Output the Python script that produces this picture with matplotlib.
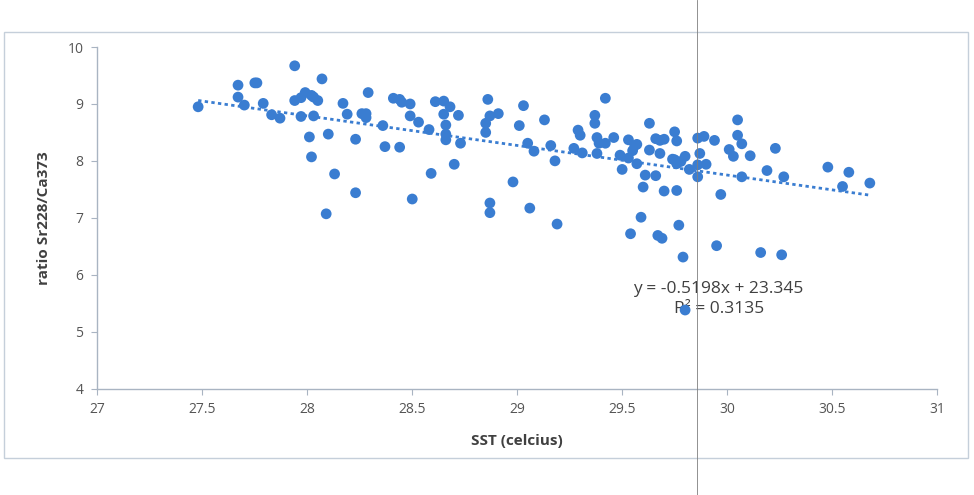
import numpy as np
import matplotlib
matplotlib.use("Agg")
import matplotlib.pyplot as plt
from matplotlib.patches import Rectangle
from matplotlib.lines import Line2D

sst = [27.48, 27.67, 27.75, 27.76, 27.67, 27.70, 27.79, 27.83, 27.87, 27.94,
       28.07, 27.94, 27.97, 27.99, 28.02, 28.03, 28.05, 27.97, 28.03, 28.01,
       28.02, 28.10, 28.13, 28.09, 28.17, 28.19, 28.29, 28.23, 28.23, 28.26,
       28.28, 28.28, 28.36, 28.37, 28.44, 28.41, 28.44, 28.45, 28.49, 28.49,
       28.53, 28.50, 28.58, 28.59, 28.61, 28.65, 28.68, 28.65, 28.72, 28.66,
       28.66, 28.66, 28.73, 28.70, 28.86, 28.87, 28.91, 28.85, 28.85, 28.87,
       28.87, 28.98, 29.03, 29.01, 29.06, 29.13, 29.05, 29.08, 29.16, 29.18,
       29.19, 29.27, 29.29, 29.30, 29.31, 29.37, 29.37, 29.38, 29.39, 29.42,
       29.38, 29.42, 29.46, 29.49, 29.50, 29.53, 29.53, 29.56, 29.57, 29.55,
       29.57, 29.63, 29.63, 29.61, 29.66, 29.60, 29.70, 29.76, 29.66, 29.68,
       29.70, 29.68, 29.75, 29.76, 29.74, 29.75, 29.78, 29.80, 29.76, 29.82,
       29.86, 29.89, 29.94, 29.87, 29.86, 29.90, 29.86, 29.97, 29.59, 29.54,
       29.67, 29.69, 29.77, 29.95, 29.79, 30.16, 30.26, 29.80, 30.05, 30.05,
       30.07, 30.01, 30.03, 30.11, 30.07, 30.19, 30.23, 30.27, 30.48, 30.58,
       30.55, 30.68]
ratio = [8.95, 9.33, 9.37, 9.37, 9.12, 8.98, 9.01, 8.81, 8.75, 9.67,
         9.44, 9.06, 9.11, 9.20, 9.15, 9.12, 9.06, 8.78, 8.79, 8.42,
         8.07, 8.47, 7.77, 7.07, 9.01, 8.82, 9.20, 8.38, 7.44, 8.83,
         8.83, 8.76, 8.62, 8.25, 8.24, 9.10, 9.08, 9.03, 9.00, 8.79,
         8.68, 7.33, 8.55, 7.78, 9.04, 9.05, 8.95, 8.82, 8.80, 8.63,
         8.47, 8.37, 8.31, 7.94, 9.08, 8.79, 8.83, 8.66, 8.50, 7.26,
         7.09, 7.63, 8.97, 8.62, 7.17, 8.72, 8.31, 8.17, 8.27, 8.00,
         6.89, 8.22, 8.54, 8.45, 8.14, 8.80, 8.66, 8.41, 8.31, 8.31,
         8.13, 9.10, 8.41, 8.10, 7.85, 8.37, 8.05, 8.27, 8.29, 8.18,
         7.95, 8.66, 8.19, 7.75, 7.74, 7.54, 7.47, 7.48, 8.39, 8.36,
         8.38, 8.13, 8.51, 8.35, 8.03, 8.02, 7.99, 8.08, 7.95, 7.85,
         8.40, 8.43, 8.36, 8.13, 7.93, 7.94, 7.72, 7.41, 7.01, 6.72,
         6.69, 6.64, 6.87, 6.51, 6.31, 6.39, 6.35, 5.38, 8.72, 8.45,
         8.30, 8.20, 8.08, 8.09, 7.72, 7.83, 8.22, 7.72, 7.89, 7.80,
         7.55, 7.61]

slope = -0.5198
intercept = 23.345
r_squared = 0.3135

x_ticks = [27, 27.5, 28, 28.5, 29, 29.5, 30, 30.5, 31]
x_tick_labels = ["27", "27.5", "28", "28.5", "29", "29.5", "30", "30.5", "31"]
y_ticks = [4, 5, 6, 7, 8, 9, 10]
y_tick_labels = ["4", "5", "6", "7", "8", "9", "10"]

x_title = "SST (celcius)"
y_title = "ratio Sr228/Ca373"

plt.rcParams['font.family'] = ['Open Sans', 'DejaVu Sans']

fig = plt.figure(figsize=(9.74, 4.95), dpi=100)
ax = fig.add_axes([0.100, 0.215, 0.862, 0.69])

blue = "#3A7DD1"
ax.scatter(sst, ratio, s=60, color=blue, edgecolors="none", zorder=3)

xs = np.array([min(sst), max(sst)])
ax.plot(xs, slope * xs + intercept, linestyle=(0, (1.2, 1.2)), color=blue,
        lw=2.0, zorder=2)

ax.text(29.96, 5.57, f"y = {slope}x + {intercept}\nR² = {r_squared}",
        ha="center", va="center", fontsize=12.5, color="#404040",
        linespacing=1.35, zorder=2.5)

ax.set_xlim(27, 31)
ax.set_ylim(4, 10)
ax.set_xticks(x_ticks)
ax.set_xticklabels(x_tick_labels)
ax.set_yticks(y_ticks)
ax.set_yticklabels(y_tick_labels)

for side in ["top", "right"]:
    ax.spines[side].set_visible(False)
for side in ["left", "bottom"]:
    ax.spines[side].set_color("#A9B4C2")
    ax.spines[side].set_linewidth(1.0)

ax.tick_params(axis="both", direction="out", length=4, width=0.8,
               color="#A9B4C2", labelsize=10, labelcolor="#555555", pad=6)

ax.set_xlabel(x_title, fontsize=11, fontweight="bold", color="#404040", labelpad=12)
ax.set_ylabel(y_title, fontsize=11, fontweight="bold", color="#404040", labelpad=12)

# chart-area border
fig.patches.append(Rectangle((0.004, 0.075), 0.99, 0.86, transform=fig.transFigure,
                             fill=False, edgecolor="#C5CFDA", lw=1.0))
# vertical crease visible on the scanned page
fig.lines.append(Line2D([0.716, 0.716], [0, 1], transform=fig.transFigure,
                        color="#7F7F7F", lw=0.6))

fig.savefig("out.png", dpi=100)
